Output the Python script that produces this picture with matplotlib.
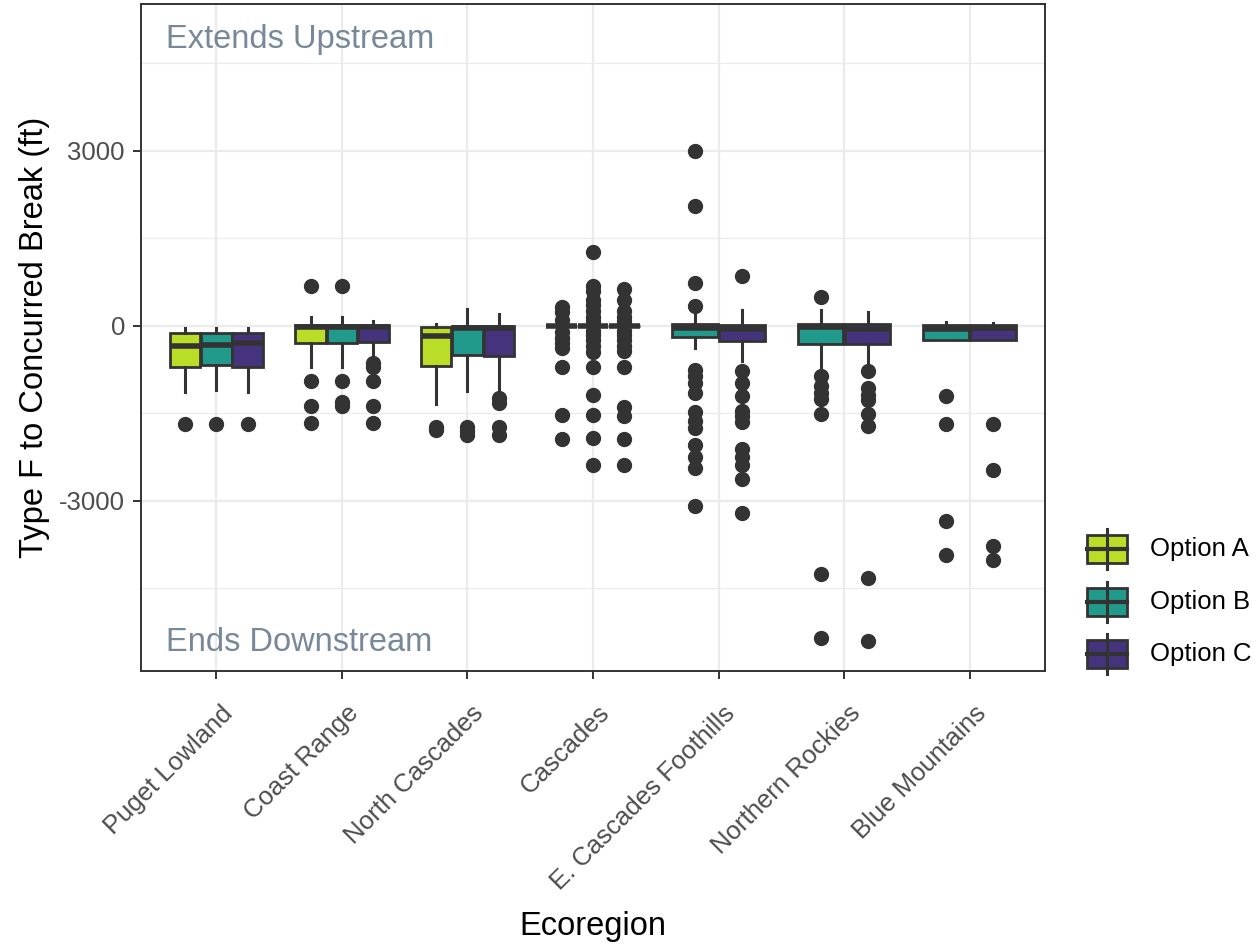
import matplotlib

matplotlib.use("Agg")
import matplotlib.pyplot as plt
import matplotlib.transforms as mtransforms
from matplotlib.lines import Line2D
from matplotlib.patches import Rectangle

plt.rcParams["font.family"] = ["Liberation Sans", "DejaVu Sans"]

# %% DATA
categories = [
    "Puget Lowland",
    "Coast Range",
    "North Cascades",
    "Cascades",
    "E. Cascades Foothills",
    "Northern Rockies",
    "Blue Mountains",
]
options = ["Option A", "Option B", "Option C"]
colors = ["#BADE28", "#21998B", "#46337E"]

# Box summaries per ecoregion: (whisker low, Q1, median, Q3, whisker high)
option_a_box = [
    (-1140, -700, -340, -125, -30),
    (-700, -300, -20, 10, 160),
    (-1340, -690, -180, -20, 30),
    (0, 0, 0, 0, 0),
    None,
    None,
    None,
]
option_b_box = [
    (-1100, -670, -330, -125, -30),
    (-700, -300, -20, 10, 160),
    (-1110, -500, -40, 5, 290),
    (0, 0, 0, 0, 0),
    (-375, -190, -30, 30, 250),
    (-800, -320, -20, 25, 270),
    (-240, -240, -50, 15, 70),
]
option_c_box = [
    (-1140, -700, -300, -125, -30),
    (-560, -280, -20, 10, 90),
    (-1120, -510, -30, 5, 200),
    (0, 0, 0, 0, 0),
    (-600, -260, -60, 20, 265),
    (-700, -320, -50, 25, 230),
    (-240, -240, -40, 15, 50),
]

# Outlying reaches per ecoregion
option_a_out = [
    [-1680],
    [680, -950, -1370, -1670],
    [-1730, -1790],
    [330, 230, 100, -100, -200, -300, -380, -700, -1530, -1940],
    [],
    [],
    [],
]
option_b_out = [
    [-1680],
    [680, -950, -1300, -1380],
    [-1730, -1800, -1870],
    [1270, 680, 600, 450, 350, 250, 150, 80, -80, -150, -250, -350, -450,
     -700, -1190, -1530, -1920, -2380],
    [3000, 2050, 740, 340, -760, -860, -980, -1150, -1480, -1640, -1750,
     -2050, -2250, -2440, -3090],
    [500, -860, -1030, -1150, -1250, -1520, -4250, -5350],
    [-1200, -1690, -3340, -3930],
]
option_c_out = [
    [-1680],
    [-640, -700, -950, -1370, -1670],
    [-1230, -1330, -1730, -1870],
    [630, 440, 250, 150, 80, -80, -150, -250, -350, -440, -700, -1400,
     -1550, -1940, -2380],
    [860, -780, -980, -1210, -1460, -1550, -1650, -2120, -2250, -2380,
     -2630, -3210],
    [-780, -1070, -1180, -1270, -1520, -1710, -4320, -5410],
    [-1690, -2470, -3780, -4010],
]

boxes = [option_a_box, option_b_box, option_c_box]
outliers = [option_a_out, option_b_out, option_c_out]

# %% FIGURE
W, H = 1258, 944
left, right, top, bottom = 141, 1045, 4, 671
fig = plt.figure(figsize=(W / 100, H / 100), dpi=100)
ax = fig.add_axes([left / W, 1 - bottom / H, (right - left) / W, (bottom - top) / H])

edge = "#333333"
dodge = 0.75

for i, cat in enumerate(categories):
    present = [k for k in range(len(options)) if boxes[k][i] is not None]
    n = len(present)
    width = dodge / n
    for j, k in enumerate(present):
        lo, q1, med, q3, hi = boxes[k][i]
        pos = i + 1 + (j - (n - 1) / 2) * width
        stats = [
            dict(whislo=lo, q1=q1, med=med, q3=q3, whishi=hi, fliers=outliers[k][i])
        ]
        ax.bxp(
            stats,
            positions=[pos],
            widths=width * 0.97,
            patch_artist=True,
            showcaps=False,
            boxprops=dict(facecolor=colors[k], edgecolor=edge, linewidth=2.0),
            whiskerprops=dict(color=edge, linewidth=2.2),
            medianprops=dict(color=edge, linewidth=4.0, solid_capstyle="butt"),
            flierprops=dict(
                marker="o",
                markerfacecolor=edge,
                markeredgecolor=edge,
                markersize=10,
                linestyle="none",
            ),
            manage_ticks=False,
            zorder=3,
        )

# Direction labels
ax.text(0.6, 4915, "Extends Upstream", ha="left", va="center",
        fontsize=23.5, color="#778899")
ax.text(0.6, -5430, "Ends Downstream", ha="left", va="center",
        fontsize=23.5, color="#778899")

ax.set_xlim(0.4, len(categories) + 0.6)
ax.set_ylim(-5920, 5520)
ax.set_xticks(range(1, len(categories) + 1))
ax.set_xticklabels(categories, rotation=45, ha="right", va="top",
                   rotation_mode="anchor")
ax.set_yticks([-3000, 0, 3000])
ax.set_yticklabels(["-3000", "0", "3000"])
ax.set_yticks([-4500, -1500, 1500, 4500], minor=True)
ax.tick_params(axis="both", which="major", labelsize=18.5, labelcolor="#4D4D4D",
               color=edge, length=5.8, width=1.4, pad=5.8)
ax.tick_params(axis="y", which="minor", length=0)

# Nudge rotated category labels down a little below the ticks
shift = mtransforms.ScaledTranslation(3 / 72, -10 / 72, fig.dpi_scale_trans)
for lab in ax.get_xticklabels():
    lab.set_transform(lab.get_transform() + shift)

ax.set_axisbelow(True)
ax.grid(which="major", color="#EBEBEB", linewidth=1.6)
ax.grid(which="minor", axis="y", color="#EBEBEB", linewidth=0.9)
for s in ax.spines.values():
    s.set_color(edge)
    s.set_linewidth(1.4)

ax.set_xlabel("Ecoregion", fontsize=23.5, va="center")
ax.set_ylabel("Type F to Concurred Break (ft)", fontsize=23.5, va="center")
ax.xaxis.set_label_coords(0.5, (bottom - 927) / (bottom - top))
ax.yaxis.set_label_coords((35 - left) / (right - left), 0.5)

# Legend keys drawn in figure pixels
def fx(px):
    return px / W


def fy(py):
    return 1 - py / H


for k, (name, c) in enumerate(zip(options, colors)):
    cy = 549 + k * 52.5
    fig.add_artist(Line2D([fx(1107), fx(1107)], [fy(cy - 20), fy(cy + 20)],
                          color=edge, linewidth=2.2, transform=fig.transFigure))
    fig.add_artist(Rectangle((fx(1087), fy(cy + 14)), fx(1127) - fx(1087),
                             fy(cy - 14) - fy(cy + 14), facecolor=c,
                             edgecolor=edge, linewidth=2.0,
                             transform=fig.transFigure))
    fig.add_artist(Line2D([fx(1087), fx(1127)], [fy(cy), fy(cy)],
                          color=edge, linewidth=3.0, transform=fig.transFigure))
    fig.text(fx(1150), fy(cy), name, ha="left", va="center", fontsize=18.5)

fig.savefig("out.png", dpi=100)
